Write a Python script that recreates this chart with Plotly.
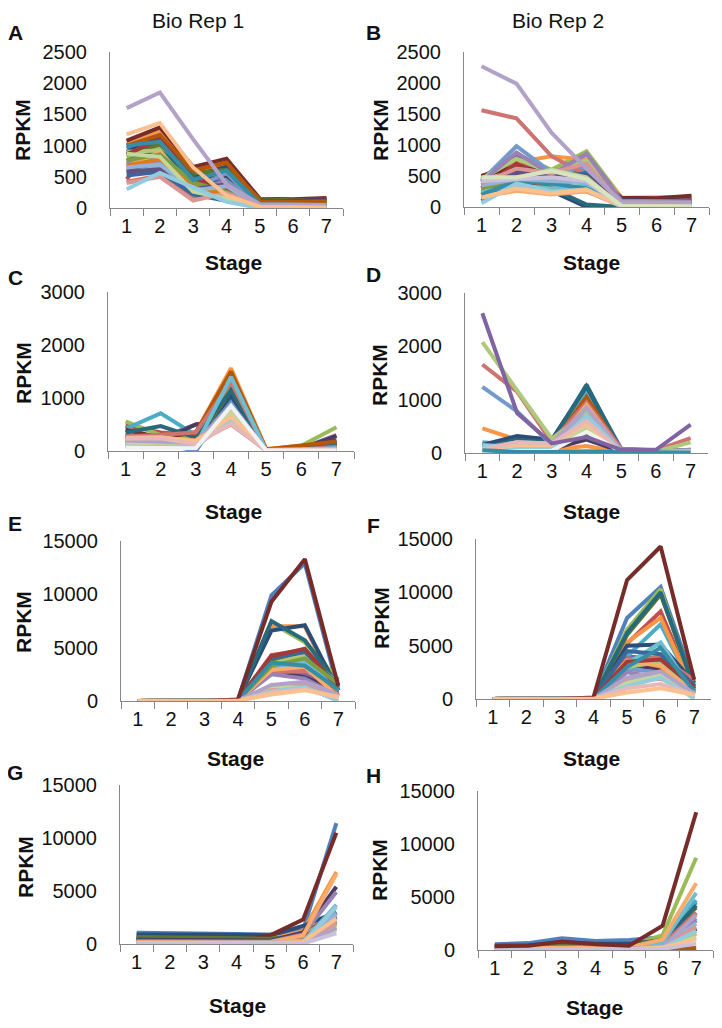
import plotly.graph_objects as go

stages = ["1", "2", "3", "4", "5", "6", "7"]

palette = ["#4F81BD", "#C0504D", "#9BBB59", "#8064A2", "#4BACC6", "#F79646",
           "#2C4D75", "#772C2A", "#5F7530", "#4D3B62", "#276A7C", "#B65708",
           "#729ACA", "#CD7371", "#AFC97A", "#9983B5", "#6FBDD1", "#F9AB6B",
           "#3A679C", "#9F3B38", "#7E9D40", "#664F83", "#358EA6", "#E07A1F",
           "#95B3D7", "#D99694", "#C3D69B", "#B3A2C7", "#93CDDD", "#FAC090",
           "#B9CDE5", "#E6B9B8", "#D7E4BD", "#CCC1DA", "#B7DEE8", "#FCD5B5",
           "#F2F2F2"]

# ---------------- Panel A (Bio Rep 1) ----------------
A_colors = [0, 1, 2, 3, 4, 5, 6, 7, 8, 9, 10, 11, 12, 13, 14, 15, 16, 17, 18, 19,
            20, 21, 22, 23, 24, 25, 26, 27, 28, 29]
A_values = [
    [950, 1150, 520, 620, 110, 110, 130],
    [460, 1080, 480, 560, 90, 90, 110],
    [820, 980, 420, 230, 40, 30, 30],
    [700, 720, 380, 470, 70, 70, 90],
    [1020, 1180, 560, 470, 50, 40, 40],
    [1060, 1240, 610, 700, 120, 110, 130],
    [900, 1120, 520, 660, 130, 130, 150],
    [1080, 1290, 660, 790, 150, 140, 160],
    [860, 1020, 560, 610, 150, 120, 140],
    [600, 660, 420, 520, 120, 110, 140],
    [760, 920, 500, 360, 60, 50, 60],
    [1000, 1170, 600, 730, 110, 100, 110],
    [720, 820, 320, 560, 30, 20, 30],
    [420, 520, 160, 260, 20, 10, 20],
    [900, 920, 270, 160, 20, 10, 10],
    [640, 760, 320, 420, 20, 10, 10],
    [560, 660, 260, 110, 10, 10, 10],
    [660, 900, 320, 210, 20, 10, 10],
    [520, 580, 220, 110, 10, 5, 5],
    [860, 1100, 460, 320, 40, 30, 30],
    [760, 860, 410, 260, 30, 20, 20],
    [580, 620, 300, 380, 50, 40, 50],
    [1000, 1060, 450, 600, 60, 50, 50],
    [680, 780, 330, 200, 20, 10, 10],
    [650, 700, 280, 350, 10, 10, 10],
    [400, 500, 120, 240, 30, 20, 30],
    [870, 820, 260, 150, 5, 0, 0],
    [1600, 1850, 1100, 380, 60, 50, 50],
    [300, 560, 330, 100, 0, 0, 0],
    [1180, 1360, 650, 200, 20, 10, 10],
]

# ---------------- Panel B (Bio Rep 2) ----------------
B_colors = [0, 1, 2, 3, 4, 5, 6, 7, 8, 9, 10, 11, 12, 13, 14, 15, 16, 17, 18, 19,
            20, 21, 22, 24, 25, 26, 27, 28, 29, 33, 32]
B_values = [
    [480, 700, 550, 680, 60, 50, 50],
    [500, 720, 500, 600, 80, 70, 80],
    [450, 850, 600, 900, 150, 130, 130],
    [420, 820, 500, 850, 120, 110, 110],
    [300, 400, 350, 450, 40, 40, 40],
    [200, 720, 820, 760, 150, 150, 160],
    [150, 330, 260, 0, 0, 0, 0],
    [500, 650, 550, 620, 150, 140, 180],
    [350, 550, 500, 600, 100, 90, 100],
    [400, 600, 500, 650, 120, 100, 110],
    [100, 380, 300, 40, 0, 0, 0],
    [250, 500, 300, 250, 60, 50, 60],
    [420, 980, 560, 620, 50, 40, 40],
    [1560, 1430, 820, 520, 60, 50, 50],
    [450, 780, 550, 750, 80, 70, 70],
    [400, 880, 520, 860, 100, 90, 90],
    [250, 350, 300, 350, 20, 10, 10],
    [170, 260, 200, 250, 10, 10, 10],
    [350, 600, 450, 550, 60, 50, 50],
    [300, 700, 420, 500, 70, 60, 60],
    [300, 450, 400, 450, 50, 40, 40],
    [380, 550, 480, 500, 60, 50, 50],
    [200, 420, 380, 300, 30, 20, 20],
    [350, 450, 420, 400, 20, 10, 10],
    [380, 620, 550, 700, 40, 30, 30],
    [460, 470, 600, 480, 10, 10, 10],
    [2270, 1990, 1200, 620, 80, 70, 70],
    [60, 380, 250, 280, 10, 5, 5],
    [150, 300, 220, 280, 20, 10, 10],
    [420, 450, 480, 420, 20, 10, 10],
    [480, 480, 580, 450, 20, 10, 10],
]

# ---------------- Panel C ----------------
C_colors = [0, 1, 2, 3, 4, 5, 6, 7, 8, 9, 10, 11, 12, 13, 14, 15, 16, 17,
            24, 25, 26, 27, 28, 29, 31, 36]
C_values = [
    [150, 150, 0, 1000, 20, 20, 150],
    [480, 350, 300, 1300, 30, 40, 100],
    [560, 300, 250, 1200, 30, 100, 450],
    [250, 250, 500, 600, 20, 50, 300],
    [420, 710, 300, 1450, 20, 30, 150],
    [300, 300, 350, 1560, 40, 100, 200],
    [250, 200, 200, 1050, 20, 30, 200],
    [400, 250, 350, 1350, 30, 50, 150],
    [300, 200, 150, 1150, 20, 40, 100],
    [250, 200, 500, 550, 10, 50, 280],
    [350, 470, 250, 1150, 20, 40, 120],
    [200, 300, 350, 1500, 30, 100, 180],
    [100, 100, 150, 900, 10, 20, 60],
    [280, 300, 350, 1300, 20, 30, 80],
    [180, 200, 150, 800, 10, 20, 50],
    [150, 120, 200, 650, 10, 20, 60],
    [100, 80, 100, 1400, 10, 20, 50],
    [200, 250, 200, 700, 20, 30, 40],
    [120, 100, 120, 800, 10, 20, 40],
    [220, 230, 150, 500, 10, 20, 30],
    [150, 150, 100, 750, 10, 20, 30],
    [200, 180, 150, 850, 10, 20, 40],
    [80, 70, 80, 600, 10, 10, 20],
    [250, 260, 180, 650, 20, 20, 30],
    [230, 240, 130, 520, 10, 10, 20],
    [60, 50, 50, 850, 10, 10, 10],
]

# ---------------- Panel D ----------------
D_colors = [0, 1, 2, 4, 5, 6, 7, 8, 9, 10, 11, 12, 13, 14, 15, 16, 17,
            24, 25, 26, 27, 28, 29, 31, 36, 22, 3]
D_values = [
    [120, 300, 200, 1250, 80, 40, 50],
    [50, 200, 150, 600, 60, 40, 50],
    [30, 100, 100, 450, 40, 30, 60],
    [200, 150, 100, 1150, 40, 20, 30],
    [460, 250, 60, 130, 10, 20, 60],
    [150, 320, 250, 1250, 50, 30, 40],
    [80, 150, 100, 550, 40, 30, 40],
    [50, 80, 60, 350, 30, 20, 40],
    [60, 100, 80, 250, 30, 20, 30],
    [100, 250, 200, 1280, 40, 30, 40],
    [80, 200, 150, 1050, 50, 30, 40],
    [1240, 780, 150, 800, 50, 30, 60],
    [1660, 1150, 200, 950, 80, 50, 280],
    [2080, 1180, 270, 750, 50, 30, 200],
    [100, 200, 150, 700, 40, 30, 50],
    [20, 30, 30, 30, 20, 10, 10],
    [40, 100, 80, 900, 30, 20, 30],
    [60, 150, 120, 850, 30, 20, 30],
    [80, 180, 150, 650, 40, 30, 40],
    [50, 120, 100, 500, 30, 20, 30],
    [90, 200, 180, 850, 50, 30, 40],
    [150, 100, 80, 700, 30, 20, 30],
    [70, 150, 150, 550, 0, 20, 20],
    [60, 200, 180, 600, 30, 20, 30],
    [30, 40, 40, 400, 20, 10, 10],
    [50, 20, 20, 30, 20, 10, 10],
    [2620, 750, 180, 300, 60, 60, 530],
]

# ---------------- Panel E ----------------
E_colors = [0, 1, 2, 3, 4, 5, 6, 8, 9, 10, 11, 12, 13, 14, 15, 16, 17, 18, 19,
            20, 22, 24, 25, 26, 27, 28, 31, 7, 29]
E_values = [
    [10, 10, 10, 100, 9900, 12900, 1000],
    [10, 10, 10, 100, 4300, 4800, 1800],
    [10, 10, 10, 100, 7300, 5500, 2000],
    [5, 5, 5, 80, 3000, 2500, 800],
    [5, 5, 5, 80, 3500, 3800, 1200],
    [10, 10, 10, 100, 7000, 7000, 500],
    [10, 10, 10, 120, 6600, 7100, 1000],
    [10, 10, 10, 100, 3800, 4500, 1500],
    [5, 5, 5, 80, 2800, 2200, 900],
    [10, 10, 10, 100, 7500, 5700, 1500],
    [5, 5, 5, 90, 3200, 3100, 600],
    [5, 5, 5, 60, 3300, 3500, 1300],
    [5, 5, 5, 60, 2700, 2800, 2000],
    [5, 5, 5, 60, 3500, 4300, 1700],
    [5, 5, 5, 50, 2500, 2100, 500],
    [5, 5, 5, 50, 3000, 3700, 1000],
    [5, 5, 5, 50, 2900, 3200, 400],
    [5, 5, 5, 60, 4000, 4600, 1500],
    [5, 5, 5, 60, 4200, 4900, 1200],
    [5, 5, 5, 60, 3300, 4000, 1600],
    [5, 5, 5, 60, 3600, 3300, 1100],
    [5, 5, 5, 30, 1300, 1700, 300],
    [5, 5, 5, 30, 1100, 1500, 500],
    [5, 5, 5, 30, 1400, 1200, 200],
    [5, 5, 5, 30, 1500, 1800, 600],
    [5, 5, 5, 30, 900, 1300, 0],
    [5, 5, 5, 30, 800, 1100, 300],
    [10, 10, 10, 150, 9300, 13300, 1400],
    [30, 30, 30, 30, 600, 1000, 400],
]

# ---------------- Panel F ----------------
F_colors = [0, 1, 2, 3, 4, 5, 6, 8, 9, 10, 11, 12, 13, 14, 15, 16, 17, 18, 19,
            22, 24, 25, 26, 27, 28, 31, 7, 29]
F_values = [
    [10, 10, 10, 100, 7600, 10500, 1500],
    [10, 10, 10, 100, 5200, 8200, 800],
    [10, 10, 10, 100, 6500, 10300, 500],
    [10, 10, 10, 80, 4000, 3700, 1200],
    [10, 10, 10, 80, 4000, 7000, 800],
    [10, 10, 10, 100, 5300, 7600, 600],
    [10, 10, 10, 100, 5000, 5100, 1500],
    [10, 10, 10, 100, 6000, 9800, 1200],
    [10, 10, 10, 80, 3200, 2800, 900],
    [10, 10, 10, 100, 6200, 10000, 1000],
    [10, 10, 10, 80, 3800, 3000, 600],
    [5, 5, 5, 60, 2800, 2500, 800],
    [5, 5, 5, 60, 3700, 3900, 1800],
    [5, 5, 5, 60, 3000, 3500, 700],
    [5, 5, 5, 60, 2500, 2000, 1000],
    [5, 5, 5, 60, 3300, 5300, 500],
    [5, 5, 5, 60, 3600, 3100, 500],
    [5, 5, 5, 60, 4500, 4200, 1300],
    [5, 5, 5, 60, 3500, 3700, 1100],
    [5, 5, 5, 60, 3000, 4800, 700],
    [5, 5, 5, 30, 1800, 2400, 300],
    [5, 5, 5, 30, 1600, 1900, 600],
    [5, 5, 5, 30, 1500, 2200, 0],
    [5, 5, 5, 30, 2000, 2600, 500],
    [5, 5, 5, 30, 1200, 2000, 100],
    [5, 5, 5, 30, 1000, 1400, 400],
    [10, 10, 10, 150, 11150, 14300, 1800],
    [30, 30, 30, 30, 600, 1000, 400],
]

# ---------------- Panel G ----------------
G_colors = [0, 1, 2, 3, 4, 5, 6, 7, 8, 9, 10, 11, 12, 13, 14, 15, 16, 17,
            24, 25, 26, 27, 28, 29, 33]
G_values = [
    [1050, 1000, 950, 950, 900, 1300, 11400],
    [400, 400, 380, 350, 300, 1000, 3000],
    [700, 680, 650, 600, 550, 900, 2500],
    [300, 300, 300, 280, 250, 600, 2000],
    [200, 200, 200, 200, 150, 500, 2200],
    [500, 500, 480, 450, 400, 1200, 6800],
    [900, 900, 850, 880, 800, 1700, 3000],
    [600, 600, 550, 300, 800, 2300, 10500],
    [650, 650, 600, 550, 500, 800, 1500],
    [400, 400, 380, 350, 300, 1100, 5400],
    [300, 300, 280, 260, 250, 600, 2600],
    [250, 250, 240, 220, 200, 700, 2000],
    [150, 150, 150, 140, 130, 300, 3000],
    [200, 200, 180, 170, 160, 400, 2500],
    [150, 150, 150, 140, 130, 300, 1800],
    [250, 250, 240, 230, 220, 900, 4900],
    [100, 100, 100, 90, 80, 200, 3700],
    [200, 200, 190, 180, 170, 800, 6600],
    [100, 100, 90, 90, 80, 150, 2800],
    [120, 120, 110, 100, 90, 200, 2000],
    [80, 80, 80, 70, 60, 100, 1300],
    [50, 50, 50, 50, 50, 80, 1500],
    [60, 60, 60, 60, 50, 100, 3500],
    [100, 100, 100, 100, 100, 200, 2400],
    [40, 40, 40, 40, 40, 50, 1000],
]

# ---------------- Panel H ----------------
H_colors = [0, 1, 2, 3, 4, 5, 6, 8, 9, 10, 11, 12, 13, 14, 15, 16, 17,
            24, 25, 26, 27, 28, 29, 33, 7]
H_values = [
    [550, 650, 1100, 850, 950, 1200, 4500],
    [300, 350, 500, 400, 350, 800, 3500],
    [200, 250, 300, 300, 400, 1400, 8700],
    [150, 200, 250, 200, 250, 700, 2800],
    [200, 200, 250, 200, 250, 900, 4700],
    [100, 120, 150, 130, 150, 400, 1500],
    [400, 450, 700, 600, 600, 900, 2000],
    [300, 300, 400, 350, 400, 1000, 4000],
    [150, 150, 200, 180, 200, 500, 2000],
    [250, 250, 300, 280, 300, 800, 4200],
    [50, 50, 50, 50, 50, 50, 200],
    [100, 100, 120, 100, 120, 400, 3000],
    [150, 150, 200, 150, 150, 500, 3500],
    [100, 120, 150, 130, 150, 600, 1600],
    [120, 120, 150, 130, 150, 400, 2800],
    [150, 150, 200, 180, 200, 700, 5400],
    [200, 200, 250, 200, 250, 1000, 6300],
    [80, 80, 100, 90, 100, 300, 2500],
    [100, 100, 120, 100, 100, 300, 2200],
    [60, 60, 80, 70, 80, 200, 1200],
    [70, 70, 90, 80, 90, 250, 3300],
    [50, 50, 60, 50, 60, 200, 1800],
    [60, 60, 80, 70, 80, 250, 1000],
    [40, 40, 50, 40, 50, 100, 600],
    [350, 400, 800, 550, 400, 2300, 13000],
]

panel_letters = ["A", "B", "C", "D", "E", "F", "G", "H"]
y_max = [2500, 2500, 3000, 3000, 15000, 15000, 15000, 15000]
y_dtick = [500, 500, 1000, 1000, 5000, 5000, 5000, 5000]
column_titles = ["Bio Rep 1", "Bio Rep 2"]
x_title = "Stage"
y_title = "RPKM"

panels = [(A_values, A_colors), (B_values, B_colors), (C_values, C_colors),
          (D_values, D_colors), (E_values, E_colors), (F_values, F_colors),
          (G_values, G_colors), (H_values, H_colors)]

# ---------------- layout geometry (screen pixels) ----------------
OFF = 8                      # page body margin in the browser
W, H = 722 - 2 * OFF, 1028 - 2 * OFF


def px(x):
    return (x - OFF) / W


def py(y):
    return 1 - (y - OFF) / H


# (left, right, top, bottom) of each plot area
boxes = [(110, 343, 52, 208), (464, 709, 52, 207),
         (108, 354, 292, 451), (465, 708, 293, 453),
         (121, 355, 541, 701), (476, 711, 539, 699),
         (120, 353, 785, 944), (478, 713, 791, 950)]
stage_title_pos = [(233, 262), (591, 262), (233, 511), (591, 511),
                   (235, 758), (591, 758), (237, 1005), (594, 1007)]
rpkm_pos = [(23, 130), (381, 130), (23, 373), (379, 375),
            (23, 622), (381, 618), (25, 867), (379, 870)]
letter_pos = [(15, 33), (373, 33), (15, 277), (373, 275),
              (15, 523), (373, 525), (15, 772), (373, 775)]
coltitle_pos = [(198, 20), (558, 20)]

FONT = "Liberation Sans, Arial, sans-serif"
AXIS_GRAY = "#878787"

fig = go.Figure()
layout = dict(width=W, height=H, margin=dict(l=0, r=0, t=0, b=0, pad=0),
              paper_bgcolor="white", plot_bgcolor="white", showlegend=False)

annotations = []
for i, (vals, cols) in enumerate(panels):
    k = "" if i == 0 else str(i + 1)
    for row, ci in zip(vals, cols):
        fig.add_trace(go.Scatter(x=stages, y=row, mode="lines",
                                 line=dict(color=palette[ci], width=4),
                                 xaxis="x" + k, yaxis="y" + k,
                                 hoverinfo="skip", cliponaxis=False))
    l, r, t, b = boxes[i]
    layout["xaxis" + k] = dict(domain=[px(l), px(r)], anchor="y" + k,
                               type="category", categoryorder="array",
                               categoryarray=stages, range=[-0.5, 6.5],
                               tickson="boundaries", ticks="outside",
                               ticklen=7, tickcolor=AXIS_GRAY, tickwidth=1,
                               showline=True, linecolor=AXIS_GRAY, linewidth=1,
                               showgrid=False, zeroline=False, automargin=False,
                               tickfont=dict(family=FONT, size=20, color="#111"),
                               fixedrange=True)
    layout["yaxis" + k] = dict(domain=[py(b), py(t)], anchor="x" + k,
                               range=[0, y_max[i]], dtick=y_dtick[i], tick0=0,
                               tickformat="d",
                               showline=True, linecolor=AXIS_GRAY, linewidth=1,
                               showgrid=False, zeroline=False, automargin=False,
                               ticks="outside", ticklen=18,
                               tickcolor="rgba(0,0,0,0)",
                               tickfont=dict(family=FONT, size=20, color="#111"),
                               fixedrange=True)
    sx, sy = stage_title_pos[i]
    annotations.append(dict(x=px(sx), y=py(sy), xref="paper", yref="paper",
                            text="<b>" + x_title + "</b>", showarrow=False,
                            font=dict(family=FONT, size=21, color="#111"),
                            xanchor="center", yanchor="middle"))
    rx, ry = rpkm_pos[i]
    annotations.append(dict(x=px(rx), y=py(ry), xref="paper", yref="paper",
                            text="<b>" + y_title + "</b>", showarrow=False,
                            textangle=-90,
                            font=dict(family=FONT, size=21, color="#111"),
                            xanchor="center", yanchor="middle"))
    lx, ly = letter_pos[i]
    annotations.append(dict(x=px(lx), y=py(ly), xref="paper", yref="paper",
                            text="<b>" + panel_letters[i] + "</b>",
                            showarrow=False,
                            font=dict(family=FONT, size=21, color="#111"),
                            xanchor="center", yanchor="middle"))

for j, title in enumerate(column_titles):
    cx, cy = coltitle_pos[j]
    annotations.append(dict(x=px(cx), y=py(cy), xref="paper", yref="paper",
                            text=title, showarrow=False,
                            font=dict(family=FONT, size=21, color="#111"),
                            xanchor="center", yanchor="middle"))

layout["annotations"] = annotations
fig.update_layout(**layout)
fig.write_html("out.html")
